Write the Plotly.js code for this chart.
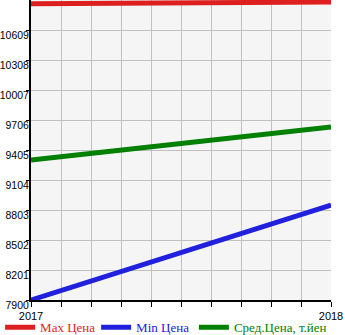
<!DOCTYPE html>
<html><head><meta charset="utf-8">
<script src="https://cdn.plot.ly/plotly-3.0.1.min.js"></script>
<style>html,body{margin:0;padding:0;background:#fff}</style>
</head><body>
<div id="chart" style="width:345px;height:335px"></div>
<script>
const years = [2017, 2018];
const maxPrice = [10872, 10890];
const minPrice = [7900, 8853];
const avgPrice = [9305, 9636];
const yTicks = [7900, 8201, 8502, 8803, 9104, 9405, 9706, 10007, 10308, 10609];
const xTicks = [2017, 2017.1, 2017.2, 2017.3, 2017.4, 2017.5, 2017.6, 2017.7, 2017.8, 2017.9, 2018];
const xLabels = ['2017', '', '', '', '', '', '', '', '', '', '2018'];
const names = ['Max Цена', 'Min Цена', 'Сред.Цена, т.йен'];
const colors = ['#dd1f1f', '#2020dd', '#008000'];

const series = [maxPrice, minPrice, avgPrice];
const legendIds = ['legend', 'legend2', 'legend3'];
const data = series.map((s, i) => ({
  x: years, y: s, type: 'scatter', mode: 'lines', name: names[i],
  legend: legendIds[i],
  line: {color: colors[i], width: 5}, cliponaxis: false
}));

const legendPos = [-0.103, 0.217, 0.543];
function mkLegend(i) {
  return {orientation: 'h', xref: 'paper', x: legendPos[i], xanchor: 'left',
    yref: 'container', y: 0.068, yanchor: 'top',
    font: {family: 'Liberation Serif', size: 13, color: colors[i]}, itemwidth: 30,
    bgcolor: 'rgba(0,0,0,0)', borderwidth: 0};
}

const layout = {
  width: 345, height: 335,
  margin: {l: 31, r: 14, t: 0, b: 35},
  paper_bgcolor: '#ffffff', plot_bgcolor: '#f5f5f5',
  showlegend: true,
  legend: mkLegend(0), legend2: mkLegend(1), legend3: mkLegend(2),
  xaxis: {range: [2017, 2018], tickvals: xTicks, ticktext: xLabels,
    showgrid: true, gridcolor: '#c0c0c0', gridwidth: 1,
    ticks: 'outside', ticklen: 5, tickcolor: '#000',
    showline: true, linecolor: '#000', linewidth: 2, automargin: false,
    zeroline: false, tickfont: {family: 'Liberation Sans', size: 11, color: '#000'}},
  yaxis: {range: [7900, 10910], tickvals: yTicks, ticktext: yTicks.map(String),
    showgrid: true, gridcolor: '#c0c0c0', gridwidth: 1,
    ticks: 'outside', ticklen: 3, tickcolor: '#000', automargin: false,
    showline: true, linecolor: '#000', linewidth: 2,
    zeroline: false, ticklabelshift: 5, ticklabelstandoff: -5,
    tickfont: {family: 'Liberation Sans', size: 10.5, color: '#000'}}
};
Plotly.newPlot('chart', data, layout, {displayModeBar: false, staticPlot: true});
</script>
</body></html>
